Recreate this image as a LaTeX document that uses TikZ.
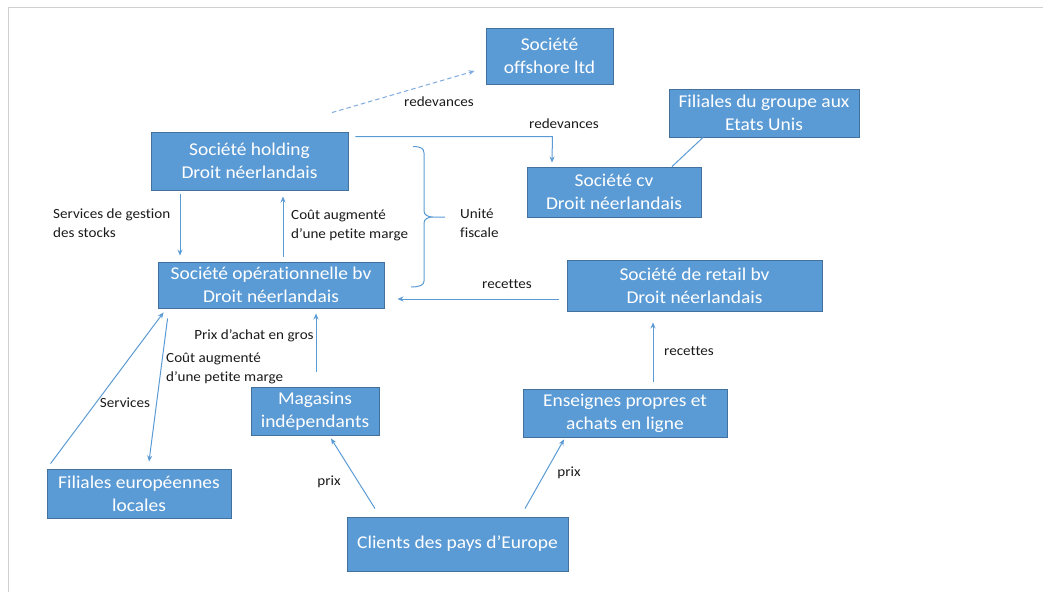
\documentclass[tikz,border=0pt]{standalone}
\usepackage{fontspec}
\setmainfont{Carlito}[FakeStretch=1.08,RawFeature=-liga]
\usetikzlibrary{calc,arrows.meta}
\definecolor{boxfill}{HTML}{5B9BD5}
\definecolor{boxline}{HTML}{41719C}
\definecolor{conn}{HTML}{5B9BD5}
\definecolor{dashc}{HTML}{7FAADD}
\definecolor{framec}{HTML}{D0D0D0}
\definecolor{labc}{HTML}{1A1A1A}
\tikzset{
  entity/.style={draw=boxline, line width=0.9pt, fill=boxfill, text=white, inner sep=0pt,
    align=center, font=\fontsize{18}{23}\selectfont},
  lab/.style={text=labc, inner sep=0pt, align=left, font=\fontsize{14}{19}\selectfont},
  arr/.style={draw=conn, line width=1pt, -{Stealth[length=6pt,width=5pt]}},
  plain/.style={draw=conn, line width=1pt},
}
\begin{document}
\begin{tikzpicture}[x=1pt,y=-1pt]
\useasboundingbox (0,0) rectangle (1043,592);
% frame
\draw[framec, line width=1.5pt] (1043,7.5) -- (8.5,7.5) -- (8.5,592);
% boxes
\node[entity, minimum width=127pt, minimum height=56pt] (off) at (549.5,56) {Société\\offshore ltd};
\node[entity, minimum width=190pt, minimum height=48pt] (us) at (764,113) {Filiales du groupe aux\\Etats Unis};
\node[entity, minimum width=197pt, minimum height=58pt] (hold) at (249.5,161) {Société holding\\Droit néerlandais};
\node[entity, minimum width=174pt, minimum height=50pt] (cv) at (614,192) {Société cv\\Droit néerlandais};
\node[entity, minimum width=226pt, minimum height=46pt] (op) at (271,285) {Société opérationnelle bv\\Droit néerlandais};
\node[entity, minimum width=255pt, minimum height=51pt] (retail) at (694.5,285.5) {Société de retail bv\\Droit néerlandais};
\node[entity, minimum width=128pt, minimum height=48pt] (mag) at (315,411) {Magasins\\indépendants};
\node[entity, minimum width=204pt, minimum height=48pt] (ens) at (625,413) {Enseignes propres et\\achats en ligne};
\node[entity, minimum width=184pt, minimum height=49pt] (fil) at (139,493.5) {Filiales européennes\\locales};
\node[entity, minimum width=221pt, minimum height=54pt] (cli) at (457.5,544) {Clients des pays d’Europe};
% connectors
\draw[arr, dashc, dashed, dash pattern=on 4.5pt off 3pt] ($(hold.north)+(82.5,-19)$) -- ($(off.west)+(-11,15)$);
\coordinate (corner) at ($(hold.north east)+(204,5)$);
\draw[arr] ($(hold.north east)+(7,5)$) -- (corner) -- ($(cv.north)+(-62,-4)$);
\draw[plain] ($(us.south)+(-61,0)$) -- ($(cv.north)+(58,0)$);
\draw[arr] ($(hold.south)+(-69.5,4)$) -- ($(op.north)+(-91,-6)$);
\draw[arr] ($(op.north)+(12,-5)$) -- ($(hold.south)+(33.5,6)$);
\draw[arr] ($(retail.west)+(-8,13.5)$) -- ($(op.east)+(13,14)$);
\draw[arr] ($(mag.north)+(1,-15)$) -- ($(op.south)+(45,5)$);
\draw[arr] ($(fil.north west)+(4,-5)$) -- ($(op.south west)+(6,4)$);
\draw[arr] ($(op.south west)+(10,10)$) -- ($(fil.north)+(10,-7)$);
\draw[arr] ($(cli.north)+(-82.5,-8)$) -- ($(mag.south)+(16,3)$);
\draw[arr] ($(cli.north)+(67.5,-8)$) -- ($(ens.south)+(-61,2)$);
\draw[arr] ($(ens.north)+(28,-7)$) -- ($(retail.south)+(-41.5,11)$);
% brace
\draw[plain] (413,146.5) .. controls (420,146.5) and (424,148) .. (424,153)
  -- (424,211) .. controls (424,215) and (428,217) .. (433,217) -- (445,217)
  (433,217) .. controls (428,217) and (424,219) .. (424,223)
  -- (424,281) .. controls (424,285) and (420,287) .. (411,287);
% labels
\node[lab] (l1) at (439,102) {redevances};
\node[lab] (l2) at (564,124) {redevances};
\node[lab, anchor=west] (l3) at (53,223) {Services de gestion\\des stocks};
\node[lab, anchor=west] (l4) at (291,225.5) {Coût augmenté\\d’une petite marge};
\node[lab, anchor=west] (l5) at (460,223) {Unité\\fiscale};
\node[lab] (l6) at (507,284) {recettes};
\node[lab] (l7) at (254,336) {Prix d’achat en gros};
\node[lab, anchor=west] (l8) at (166,368.5) {Coût augmenté\\d’une petite marge};
\node[lab] (l9) at (125,403) {Services};
\node[lab] (l10) at (689,351) {recettes};
\node[lab] (l11) at (329,482) {prix};
\node[lab] (l12) at (569,473) {prix};
\end{tikzpicture}
\end{document}
